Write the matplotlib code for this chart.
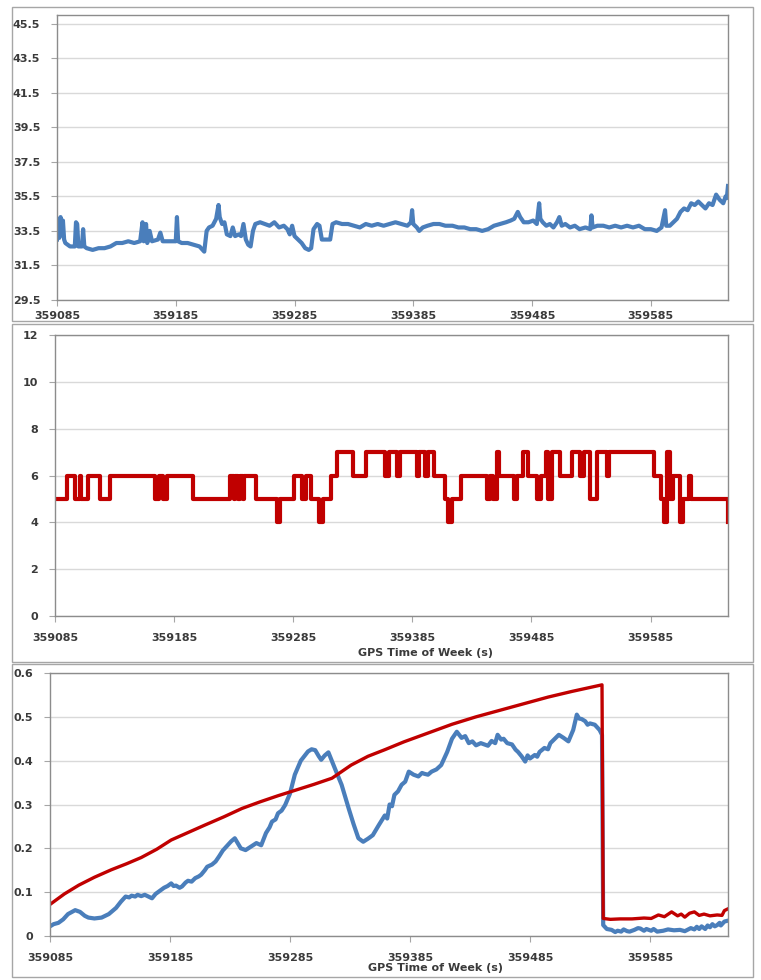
import matplotlib.pyplot as plt
from matplotlib.patches import Rectangle

plt.rcParams["font.family"] = ["DejaVu Sans"]

# ---- panel 1: signal level over GPS time ----
t_top = [359085, 359086, 359087, 359088, 359089, 359090, 359091, 359092, 359094, 359096,
         359100, 359101, 359102, 359103, 359106, 359107, 359108, 359110, 359115, 359120,
         359125, 359130, 359135, 359140, 359145, 359150, 359155, 359157, 359158, 359160,
         359161, 359163, 359165, 359170, 359172, 359174, 359180, 359185, 359186, 359187,
         359190, 359195, 359200, 359205, 359209, 359211, 359213, 359216, 359219, 359221,
         359222, 359224, 359226, 359228, 359231, 359233, 359235, 359238, 359240, 359242,
         359244, 359246, 359248, 359250, 359252, 359256, 359260, 359264, 359268, 359272,
         359276, 359279, 359281, 359283, 359285, 359288, 359291, 359294, 359297, 359299,
         359301, 359304, 359306, 359308, 359312, 359315, 359317, 359320, 359325, 359330,
         359335, 359340, 359345, 359350, 359355, 359360, 359365, 359370, 359375, 359380,
         359383, 359384, 359385, 359388, 359390, 359393, 359397, 359402, 359407, 359412,
         359418, 359423, 359428, 359433, 359438, 359443, 359448, 359453, 359458, 359463,
         359467, 359470, 359473, 359475, 359478, 359482, 359486, 359489, 359491, 359492,
         359494, 359497, 359500, 359503, 359506, 359508, 359510, 359513, 359517, 359521,
         359525, 359530, 359534, 359535, 359536, 359540, 359545, 359550, 359555, 359560,
         359565, 359570, 359575, 359580, 359585, 359590, 359594, 359597, 359598, 359601,
         359604, 359607, 359610, 359613, 359616, 359619, 359622, 359625, 359628, 359631,
         359634, 359637, 359640, 359643, 359646, 359648, 359649, 359650]
v_top = [33.0, 34.2, 33.1, 34.3, 33.3, 34.1, 33.0, 32.8, 32.7, 32.6,
         32.6, 34.0, 33.9, 32.6, 32.6, 33.6, 32.6, 32.5, 32.4, 32.5,
         32.5, 32.6, 32.8, 32.8, 32.9, 32.8, 32.9, 34.0, 32.9, 33.9,
         32.8, 33.5, 32.9, 33.0, 33.4, 32.9, 32.9, 32.9, 34.3, 32.9,
         32.8, 32.8, 32.7, 32.6, 32.3, 33.5, 33.7, 33.8, 34.2, 35.0,
         34.3, 33.9, 34.0, 33.3, 33.2, 33.7, 33.2, 33.3, 33.2, 33.9,
         33.0, 32.7, 32.6, 33.5, 33.9, 34.0, 33.9, 33.8, 34.0, 33.7,
         33.8, 33.6, 33.3, 33.8, 33.2, 33.0, 32.8, 32.5, 32.4, 32.5,
         33.6, 33.9, 33.8, 33.0, 33.0, 33.0, 33.9, 34.0, 33.9, 33.9,
         33.8, 33.7, 33.9, 33.8, 33.9, 33.8, 33.9, 34.0, 33.9, 33.8,
         34.0, 34.7, 33.9, 33.7, 33.5, 33.7, 33.8, 33.9, 33.9, 33.8,
         33.8, 33.7, 33.7, 33.6, 33.6, 33.5, 33.6, 33.8, 33.9, 34.0,
         34.1, 34.2, 34.6, 34.3, 34.0, 34.0, 34.1, 33.9, 35.1, 34.2,
         34.0, 33.8, 33.9, 33.7, 34.0, 34.3, 33.8, 33.9, 33.7, 33.8,
         33.6, 33.7, 33.6, 34.4, 33.7, 33.8, 33.8, 33.7, 33.8, 33.7,
         33.8, 33.7, 33.8, 33.6, 33.6, 33.5, 33.7, 34.7, 33.8, 33.8,
         34.0, 34.2, 34.6, 34.8, 34.7, 35.1, 35.0, 35.2, 35.0, 34.8,
         35.1, 35.0, 35.6, 35.3, 35.1, 35.5, 35.4, 36.1]

# ---- panel 2: number of satellites (value held until next change) ----
t_sats = [359085, 359095, 359102, 359106, 359107, 359113, 359123, 359131, 359169, 359172,
          359176, 359179, 359201, 359232, 359235, 359236, 359239, 359240, 359243, 359244,
          359254, 359271, 359274, 359286, 359292, 359296, 359300, 359307, 359310, 359317,
          359322, 359335, 359346, 359362, 359365, 359372, 359375, 359389, 359391, 359396,
          359398, 359403, 359412, 359415, 359418, 359426, 359448, 359450, 359453, 359456,
          359458, 359470, 359473, 359478, 359482, 359490, 359493, 359497, 359499, 359502,
          359509, 359519, 359526, 359529, 359534, 359540, 359548, 359550, 359588, 359594,
          359596, 359599, 359601, 359604, 359610, 359612, 359617, 359619, 359650]
n_sats = [5, 6, 5, 6, 5, 6, 5, 6, 5, 6,
          5, 6, 5, 6, 5, 6, 5, 6, 5, 6,
          5, 4, 5, 6, 5, 6, 5, 4, 5, 6,
          7, 6, 7, 6, 7, 6, 7, 6, 7, 6,
          7, 6, 5, 4, 5, 6, 5, 6, 5, 7,
          6, 5, 6, 7, 6, 5, 6, 7, 5, 7,
          6, 7, 6, 7, 5, 7, 6, 7, 6, 5,
          4, 7, 5, 6, 4, 5, 6, 5, 4]

# ---- panel 3: error (blue) and bound (red) ----
t_err = [359085, 359088, 359092, 359096, 359100, 359106, 359110, 359114, 359117, 359122,
         359128, 359134, 359140, 359144, 359148, 359151, 359153, 359156, 359158, 359161,
         359164, 359167, 359170, 359173, 359175, 359178, 359180, 359183, 359186, 359188,
         359190, 359193, 359195, 359198, 359200, 359203, 359206, 359209, 359211, 359214,
         359216, 359220, 359223, 359226, 359229, 359232, 359234, 359236, 359239, 359244,
         359248, 359253, 359257, 359261, 359265, 359268, 359270, 359273, 359275, 359278,
         359281, 359285, 359289, 359294, 359300, 359303, 359306, 359309, 359311, 359314,
         359317, 359322, 359328, 359334, 359338, 359342, 359346, 359350, 359354, 359359,
         359364, 359366, 359368, 359370, 359372, 359375, 359378, 359381, 359384, 359388,
         359392, 359395, 359397, 359400, 359403, 359407, 359411, 359416, 359420, 359424,
         359428, 359431, 359434, 359437, 359440, 359444, 359447, 359450, 359453, 359456,
         359458, 359461, 359463, 359466, 359470, 359473, 359475, 359478, 359481, 359483,
         359485, 359489, 359491, 359493, 359497, 359500, 359502, 359505, 359509, 359513,
         359517, 359521, 359524, 359526, 359528, 359531, 359533, 359535, 359539, 359543,
         359545, 359546, 359549, 359553, 359556, 359558, 359561, 359563, 359566, 359568,
         359572, 359575, 359577, 359580, 359582, 359586, 359588, 359591, 359596, 359600,
         359605, 359610, 359614, 359619, 359622, 359624, 359626, 359628, 359631, 359633,
         359635, 359637, 359639, 359641, 359643, 359644, 359647, 359650]
v_err = [0.022, 0.027, 0.030, 0.038, 0.050, 0.059, 0.055, 0.046, 0.042, 0.040,
         0.042, 0.050, 0.064, 0.078, 0.090, 0.088, 0.092, 0.090, 0.094, 0.091,
         0.094, 0.090, 0.086, 0.096, 0.100, 0.106, 0.110, 0.114, 0.120, 0.114,
         0.115, 0.110, 0.113, 0.122, 0.126, 0.124, 0.132, 0.136, 0.140, 0.150,
         0.158, 0.163, 0.170, 0.182, 0.195, 0.204, 0.210, 0.216, 0.223, 0.200,
         0.196, 0.205, 0.212, 0.207, 0.235, 0.248, 0.261, 0.266, 0.280, 0.286,
         0.299, 0.325, 0.368, 0.400, 0.421, 0.426, 0.424, 0.410, 0.402, 0.412,
         0.419, 0.385, 0.345, 0.290, 0.255, 0.223, 0.215, 0.222, 0.230, 0.253,
         0.275, 0.268, 0.300, 0.296, 0.322, 0.330, 0.345, 0.352, 0.375, 0.368,
         0.364, 0.372, 0.370, 0.368, 0.375, 0.380, 0.390, 0.420, 0.450, 0.466,
         0.452, 0.456, 0.440, 0.444, 0.435, 0.440, 0.437, 0.434, 0.445, 0.440,
         0.459, 0.448, 0.450, 0.440, 0.437, 0.425, 0.420, 0.410, 0.398, 0.412,
         0.405, 0.413, 0.409, 0.420, 0.429, 0.426, 0.440, 0.448, 0.459, 0.452,
         0.444, 0.470, 0.505, 0.496, 0.495, 0.490, 0.482, 0.485, 0.482, 0.470,
         0.459, 0.025, 0.016, 0.014, 0.009, 0.012, 0.010, 0.015, 0.011, 0.010,
         0.014, 0.018, 0.017, 0.012, 0.016, 0.012, 0.016, 0.010, 0.012, 0.015,
         0.013, 0.014, 0.011, 0.018, 0.015, 0.021, 0.016, 0.022, 0.016, 0.024,
         0.020, 0.027, 0.022, 0.025, 0.030, 0.024, 0.033, 0.035]

t_bound = [359085, 359097, 359109, 359122, 359136, 359149, 359161, 359174, 359186, 359200,
           359214, 359230, 359245, 359260, 359275, 359290, 359305, 359320, 359328, 359336,
           359350, 359364, 359380, 359400, 359420, 359440, 359460, 359480, 359500, 359520,
           359545, 359546, 359552, 359560, 359570, 359580, 359586, 359592, 359597, 359603,
           359608, 359611, 359614, 359618, 359622, 359626, 359630, 359635, 359641, 359645,
           359647, 359650]
v_bound = [0.072, 0.096, 0.116, 0.134, 0.151, 0.165, 0.179, 0.198, 0.219, 0.236,
           0.253, 0.272, 0.291, 0.306, 0.320, 0.333, 0.346, 0.360, 0.375, 0.390,
           0.410, 0.425, 0.443, 0.463, 0.483, 0.500, 0.515, 0.530, 0.545, 0.558,
           0.573, 0.040, 0.038, 0.039, 0.039, 0.041, 0.040, 0.048, 0.044, 0.055,
           0.046, 0.050, 0.043, 0.052, 0.055, 0.047, 0.050, 0.046, 0.048, 0.047,
           0.058, 0.062]

xticks = [359085, 359185, 359285, 359385, 359485, 359585]
xlim = (359085, 359650)

W, H = 761, 980
fig = plt.figure(figsize=(W / 100, H / 100), dpi=100)

blue = "#4a7ebb"
red = "#c00000"
grid_c = "#d9d9d9"
text_c = "#3a3a3a"


def box(l, t, r, b):
    # figure-pixel box -> axes rect
    return [l / W, 1 - b / H, (r - l) / W, (b - t) / H]


def frame(l, t, r, b):
    fig.patches.append(Rectangle((l / W, 1 - b / H), (r - l) / W, (b - t) / H,
                                 transform=fig.transFigure, fill=False,
                                 edgecolor="#a6a6a6", lw=1.0))


def style(ax, yticks, yfmt, ylim):
    ax.set_xlim(*xlim)
    ax.set_ylim(*ylim)
    ax.set_xticks(xticks)
    ax.set_xticklabels([str(x) for x in xticks])
    ax.set_yticks(yticks)
    ax.set_yticklabels([yfmt.format(y) for y in yticks])
    ax.grid(axis="y", color=grid_c, lw=1.0)
    ax.set_axisbelow(True)
    for s in ax.spines.values():
        s.set_color("#8c8c8c")
        s.set_linewidth(1.0)
    ax.tick_params(axis="both", direction="out", length=4, color="#a6a6a6",
                   labelsize=8, labelcolor=text_c)
    ax.tick_params(axis="y", pad=8)
    ax.tick_params(axis="x", pad=4)
    for lab in ax.get_xticklabels() + ax.get_yticklabels():
        lab.set_fontweight("bold")


# panel 1
frame(12, 7, 753, 321)
ax1 = fig.add_axes(box(57, 15, 728, 300))
ax1.plot(t_top, v_top, color=blue, lw=3.0, solid_joinstyle="round")
style(ax1, [29.5, 31.5, 33.5, 35.5, 37.5, 39.5, 41.5, 43.5, 45.5], "{:.1f}", (29.5, 46.0))

# panel 2
frame(12, 324, 753, 662)
ax2 = fig.add_axes(box(55, 335, 728, 616))
ax2.plot(t_sats, n_sats, color=red, lw=3.0, drawstyle="steps-post")
style(ax2, [0, 2, 4, 6, 8, 10, 12], "{:d}", (0, 12))
ax2.tick_params(axis="x", pad=8)
fig.text(426 / W, 1 - 653 / H, "GPS Time of Week (s)", ha="center", va="center",
         fontsize=8, fontweight="bold", color=text_c)

# panel 3
frame(12, 664, 753, 977)
ax3 = fig.add_axes(box(50, 673, 728, 936))
ax3.plot(t_err, v_err, color=blue, lw=3.0, solid_joinstyle="round")
ax3.plot(t_bound, v_bound, color=red, lw=2.4)
style(ax3, [0, 0.1, 0.2, 0.3, 0.4, 0.5, 0.6], "{:g}", (0, 0.6))
ax3.tick_params(axis="x", pad=8)
fig.text(435 / W, 1 - 968 / H, "GPS Time of Week (s)", ha="center", va="center",
         fontsize=8, fontweight="bold", color=text_c)

fig.savefig("out.png", dpi=100)
